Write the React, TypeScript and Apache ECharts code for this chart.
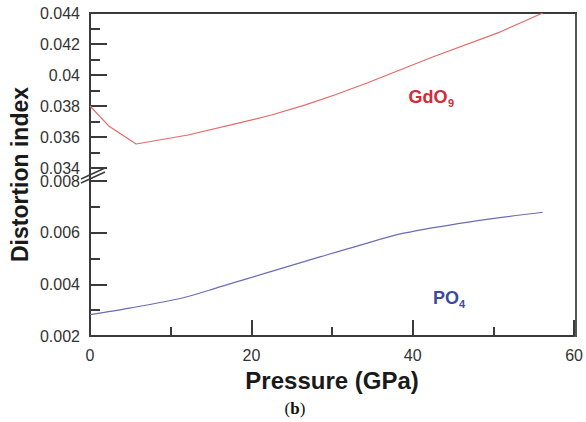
import React, { useEffect, useRef } from "react";
import * as echarts from "echarts";

// GdO9 polyhedron distortion index vs pressure
const gdPressure = [0, 2.4, 5.7, 12.1, 18.3, 22.4, 26.5, 30.2, 34.2, 42.3, 50.6, 55.9];
const gdIndex = [0.038, 0.03667, 0.03555, 0.03613, 0.03689, 0.03742, 0.03806, 0.03871, 0.03948, 0.04116, 0.04277, 0.044];

// PO4 tetrahedron distortion index vs pressure
const poPressure = [0, 4.9, 11.3, 16.2, 22.4, 28.6, 33.5, 38.9, 47.1, 56.1];
const poIndex = [0.00283, 0.00308, 0.00346, 0.00391, 0.00449, 0.00507, 0.00552, 0.00598, 0.00642, 0.00679];

const upperTicks = { min: 0.034, max: 0.044, interval: 0.002 };
const lowerTicks = { min: 0.002, max: 0.008, interval: 0.002 };
const xTicks = { min: 0, max: 60, interval: 20 };

const AXIS = "#3a3a3a";
const LABEL = "#333333";
const FONT = "'Liberation Sans', Arial, sans-serif";

export default function App() {
  const ref = useRef<HTMLDivElement>(null);
  useEffect(() => {
    document.body.style.margin = "0";
    const chart = echarts.init(ref.current!, null, { renderer: "svg" });
    const yAxisCommon = {
      type: "value",
      axisLine: { show: true, onZero: false, lineStyle: { color: AXIS, width: 2 } },
      axisTick: { show: true, inside: true, length: 17, lineStyle: { color: AXIS, width: 2 } },
      minorTick: { show: true, splitNumber: 2, length: 10, lineStyle: { color: AXIS, width: 2 } },
      axisLabel: { fontSize: 16, color: LABEL, fontFamily: FONT, margin: 10 },
      splitLine: { show: false },
    };
    chart.setOption({
      animation: false,
      backgroundColor: "#ffffff",
      grid: [
        { left: 90, top: 13, width: 486, height: 155 },
        { left: 90, top: 181, width: 486, height: 155 },
      ],
      xAxis: [
        {
          type: "value",
          gridIndex: 0,
          position: "top",
          ...xTicks,
          axisLine: { show: true, onZero: false, lineStyle: { color: AXIS, width: 2 } },
          axisTick: { show: false },
          axisLabel: { show: false },
          splitLine: { show: false },
        },
        {
          type: "value",
          gridIndex: 1,
          position: "bottom",
          ...xTicks,
          axisLine: { show: true, onZero: false, lineStyle: { color: AXIS, width: 2 } },
          axisTick: { show: true, inside: true, length: 16, lineStyle: { color: AXIS, width: 2 } },
          minorTick: { show: true, splitNumber: 2, length: 9, lineStyle: { color: AXIS, width: 2 } },
          axisLabel: { fontSize: 16, color: LABEL, fontFamily: FONT, margin: 11 },
          splitLine: { show: false },
          name: "Pressure (GPa)",
          nameLocation: "middle",
          nameGap: 32,
          nameTextStyle: { fontSize: 24, fontWeight: "bold", color: "#1a1a1a", fontFamily: FONT },
        },
      ],
      yAxis: [
        { ...yAxisCommon, gridIndex: 0, ...upperTicks },
        { ...yAxisCommon, gridIndex: 1, ...lowerTicks },
      ],
      series: [
        {
          type: "line",
          name: "GdO9",
          xAxisIndex: 0,
          yAxisIndex: 0,
          data: gdPressure.map((p, i) => [p, gdIndex[i]]),
          showSymbol: false,
          lineStyle: { color: "#e36a6a", width: 1.2 },
          clip: true,
        },
        {
          type: "line",
          name: "PO4",
          xAxisIndex: 1,
          yAxisIndex: 1,
          data: poPressure.map((p, i) => [p, poIndex[i]]),
          showSymbol: false,
          smooth: 0.3,
          lineStyle: { color: "#6a6cb4", width: 1.2 },
        },
      ],
      graphic: [
        // frame: left axis across the break gap and full right border
        { type: "line", shape: { x1: 90, y1: 167, x2: 90, y2: 182 }, style: { stroke: AXIS, lineWidth: 2 } },
        { type: "line", shape: { x1: 576, y1: 12, x2: 576, y2: 337 }, style: { stroke: "#555", lineWidth: 2 } },
        // break marks
        { type: "line", shape: { x1: 81, y1: 179, x2: 105, y2: 168 }, style: { stroke: AXIS, lineWidth: 1.5 } },
        { type: "line", shape: { x1: 81, y1: 183, x2: 105, y2: 172 }, style: { stroke: AXIS, lineWidth: 1.5 } },
        {
          type: "text",
          x: 20,
          y: 174.5,
          rotation: Math.PI / 2,
          style: {
            text: "Distortion index",
            fontSize: 23,
            fontWeight: "bold",
            fontFamily: FONT,
            fill: "#1a1a1a",
            align: "center",
            verticalAlign: "middle",
          },
        },
        {
          type: "text",
          x: 428,
          y: 97,
          style: { text: "GdO", fontSize: 18, fontWeight: "bold", fontFamily: FONT, fill: "#d42a35", align: "center", verticalAlign: "middle" },
        },
        {
          type: "text",
          x: 451,
          y: 103,
          style: { text: "9", fontSize: 11, fontWeight: "bold", fontFamily: FONT, fill: "#d42a35", align: "center", verticalAlign: "middle" },
        },
        {
          type: "text",
          x: 446,
          y: 298,
          style: { text: "PO", fontSize: 18, fontWeight: "bold", fontFamily: FONT, fill: "#3b4a9e", align: "center", verticalAlign: "middle" },
        },
        {
          type: "text",
          x: 462,
          y: 304,
          style: { text: "4", fontSize: 11, fontWeight: "bold", fontFamily: FONT, fill: "#3b4a9e", align: "center", verticalAlign: "middle" },
        },
        {
          type: "text",
          x: 295,
          y: 408,
          style: {
            text: "{p|(}{b|b}{p|)}",
            align: "center",
            verticalAlign: "middle",
            rich: {
              p: { fontSize: 17, fontFamily: "'Liberation Serif', serif", fill: "#111" },
              b: { fontSize: 17, fontWeight: "bold", fontFamily: "'Liberation Serif', serif", fill: "#111" },
            },
          },
        },
      ],
    });
    return () => chart.dispose();
  }, []);
  return <div ref={ref} style={{ width: 586, height: 422 }} />;
}
